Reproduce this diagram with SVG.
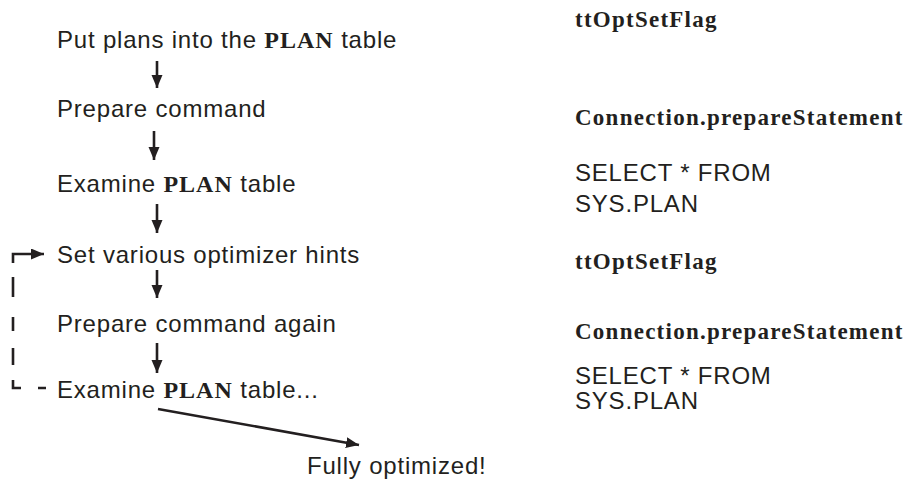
<svg xmlns="http://www.w3.org/2000/svg" width="909" height="484" viewBox="0 0 909 484">
<style>
text{fill:#231f20}
.s{font-family:"Liberation Sans",Arial,sans-serif;font-size:24px;letter-spacing:0.8px}
.b{font-family:"Liberation Serif","Times New Roman",serif;font-weight:bold;font-size:23px;letter-spacing:1.25px}
.p{font-family:"Liberation Serif","Times New Roman",serif;font-weight:bold;font-size:24px;letter-spacing:1px}
.ln{stroke:#231f20;stroke-width:2.6;fill:none}
</style>
<defs>
<marker id="ah" markerUnits="userSpaceOnUse" markerWidth="14" markerHeight="12" refX="13" refY="5.5" orient="auto">
<path d="M0,0 L13,5.5 L0,11 Z" fill="#231f20"/>
</marker>
</defs>
<rect width="909" height="484" fill="#fff"/>
<g id="n1"><text class="s" x="57" y="48">Put plans into the <tspan class="p">PLAN</tspan> table</text></g>
<g id="n2"><text class="s" x="57" y="117">Prepare command</text></g>
<g id="n3"><text class="s" x="57" y="192">Examine <tspan class="p">PLAN</tspan> table</text></g>
<g id="n4"><text class="s" x="57" y="263">Set various optimizer hints</text></g>
<g id="n5"><text class="s" x="57" y="332">Prepare command again</text></g>
<g id="n6"><text class="s" x="57" y="398">Examine <tspan class="p">PLAN</tspan> table...</text></g>
<g id="n7"><text class="s" x="307" y="474">Fully optimized!</text></g>
<g id="r1"><text class="b" x="575" y="27">ttOptSetFlag</text></g>
<g id="r2"><text class="b" x="575" y="125">Connection.prepareStatement</text></g>
<g id="r3"><text class="s" x="575" y="181">SELECT * FROM</text><text class="s" x="575" y="212">SYS.PLAN</text></g>
<g id="r4"><text class="b" x="575" y="269">ttOptSetFlag</text></g>
<g id="r5"><text class="b" x="575" y="339">Connection.prepareStatement</text></g>
<g id="r6"><text class="s" x="575" y="384">SELECT * FROM</text><text class="s" x="575" y="409">SYS.PLAN</text></g>
<g id="connectors">
<line class="ln" x1="157" y1="61" x2="157" y2="88" marker-end="url(#ah)"/>
<line class="ln" x1="154" y1="131" x2="154" y2="160" marker-end="url(#ah)"/>
<line class="ln" x1="157" y1="204" x2="157" y2="233" marker-end="url(#ah)"/>
<line class="ln" x1="157" y1="270" x2="157" y2="298" marker-end="url(#ah)"/>
<line class="ln" x1="157" y1="343" x2="157" y2="373" marker-end="url(#ah)"/>
<line class="ln" x1="158" y1="409" x2="359" y2="445" marker-end="url(#ah)"/>
<path class="ln" d="M13,263 V254 H44" marker-end="url(#ah)"/>
<path class="ln" d="M13,277 V297 M13,317 V331 M13,348 V365 M13,380 V388 H21 M38,388 H46"/>
</g>
</svg>
